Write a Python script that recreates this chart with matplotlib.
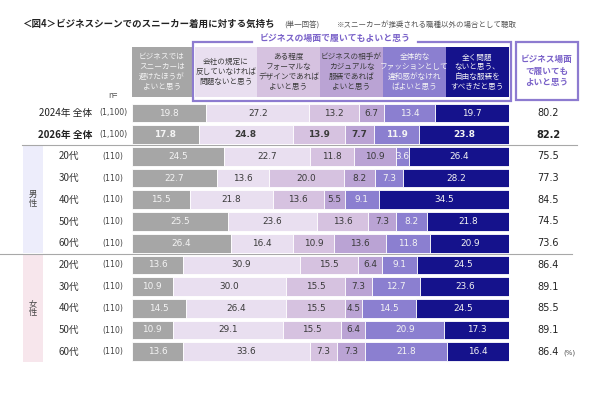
import matplotlib.pyplot as plt
from matplotlib.patches import Rectangle

plt.rcParams['font.family'] = ['Noto Sans CJK JP', 'DejaVu Sans']

# ---- data -------------------------------------------------------------
ROW_LABELS = ["2024年 全体", "2026年 全体",
              "20代", "30代", "40代", "50代", "60代",
              "20代", "30代", "40代", "50代", "60代"]
ROW_N = ["(1,100)", "(1,100)"] + ["(110)"] * 10

avoid = [19.8, 17.8, 24.5, 22.7, 15.5, 25.5, 26.4, 13.6, 10.9, 14.5, 10.9, 13.6]
if_rules = [27.2, 24.8, 22.7, 13.6, 21.8, 23.6, 16.4, 30.9, 30.0, 26.4, 29.1, 33.6]
if_formal = [13.2, 13.9, 11.8, 20.0, 13.6, 13.6, 10.9, 15.5, 15.5, 15.5, 15.5, 7.3]
if_partner = [6.7, 7.7, 10.9, 8.2, 5.5, 7.3, 13.6, 6.4, 7.3, 4.5, 6.4, 7.3]
if_fashion = [13.4, 11.9, 3.6, 7.3, 9.1, 8.2, 11.8, 9.1, 12.7, 14.5, 20.9, 21.8]
no_problem = [19.7, 23.8, 26.4, 28.2, 34.5, 21.8, 20.9, 24.5, 23.6, 24.5, 17.3, 16.4]
ok_total = [80.2, 82.2, 75.5, 77.3, 84.5, 74.5, 73.6, 86.4, 89.1, 85.5, 89.1, 86.4]

HEADERS = ["ビジネスでは\nスニーカーは\n避けたほうが\nよいと思う",
           "会社の規定に\n反していなければ\n問題ないと思う",
           "ある程度\nフォーマルな\nデザインであれば\nよいと思う",
           "ビジネスの相手が\nカジュアルな\n服装であれば\nよいと思う",
           "全体的な\nファッションとして\n違和感がなけれ\nばよいと思う",
           "全く問題\nないと思う、\n自由な服装を\nすべきだと思う"]

# ---- style ------------------------------------------------------------
COLORS = ["#a6a6a6", "#e9dff0", "#d6c2e0", "#baa3d4", "#8b7fd0", "#15128c"]
TXT = ["#f4f4f4", "#3a3a3a", "#3a3a3a", "#3a3a3a", "#f4f4f4", "#f4f4f4"]
PURPLE = "#8d7bd0"
PURPLE_TXT = "#7a62c9"
INK = "#333333"
W, H = 600, 398
BAR_L, BAR_R = 131.7, 509.3
ROW0, PITCH = 113.0, 21.7

fig = plt.figure(figsize=(6, 3.98), dpi=100)
fig.patch.set_facecolor("white")

# overlay axes in pixel coordinates for decoration
ov = fig.add_axes([0, 0, 1, 1])
ov.set_xlim(0, W)
ov.set_ylim(H, 0)
ov.axis("off")

# bar axes
n = len(ROW_LABELS)
top = ROW0 - PITCH / 2
bot = ROW0 + PITCH * (n - 0.5)
ax = fig.add_axes([BAR_L / W, 1 - bot / H, (BAR_R - BAR_L) / W, (bot - top) / H])
ax.set_xlim(0, 100)
ax.set_ylim(n - 0.5, -0.5)
ax.axis("off")

series = [avoid, if_rules, if_formal, if_partner, if_fashion, no_problem]
ys = list(range(n))
left = [0.0] * n
for k, vals in enumerate(series):
    ax.barh(ys, vals, left=left, height=0.86, color=COLORS[k], edgecolor="white", linewidth=0.6)
    for i, v in enumerate(vals):
        ax.text(left[i] + v / 2, i, f"{v:.1f}", ha="center", va="center", fontsize=6.4,
                color=TXT[k], family="DejaVu Sans", fontweight="bold" if i == 1 else "normal")
    left = [a + b for a, b in zip(left, vals)]

# title
ov.text(22, 24, "＜図4＞ビジネスシーンでのスニーカー着用に対する気持ち", fontsize=6.8,
        fontweight="bold", color="#222222", va="center", ha="left")
ov.text(284, 24.5, "(単一回答)", fontsize=5.4, color="#555555", va="center", ha="left")
ov.text(337, 24.5, "※スニーカーが推奨される職種以外の場合として聴取", fontsize=5.4,
        color="#555555", va="center", ha="left")

# header cells
cells = [(131.7, 192), (195, 257), (257, 320), (320, 383), (383, 446), (446, 508.5)]
for (x0, x1), c, t, txt in zip(cells, COLORS, TXT, HEADERS):
    ov.add_patch(Rectangle((x0, 47), x1 - x0, 50, facecolor=c, edgecolor="none"))
    ov.text((x0 + x1) / 2, 72, txt, ha="center", va="center", fontsize=5.5,
            color=t, linespacing=1.3)

# purple bracket box
lw = 1.6
ov.plot([252, 193, 193, 510.5, 510.5, 418], [42, 42, 100.5, 100.5, 42, 42],
        color=PURPLE, lw=lw, solid_joinstyle="miter")
ov.text(335, 38, "ビジネスの場面で履いてもよいと思う", ha="center", va="center",
        fontsize=6.4, fontweight="bold", color=PURPLE_TXT)
ov.add_patch(Rectangle((516, 42), 62, 58, facecolor="white", edgecolor=PURPLE, lw=lw))
ov.text(547, 71, "ビジネス場面\nで履いても\nよいと思う", ha="center", va="center",
        fontsize=6.2, fontweight="bold", color=PURPLE_TXT, linespacing=1.35)

ov.text(113, 95, "n=", ha="center", va="center", fontsize=5.8, color="#555555")

# group bands
ov.add_patch(Rectangle((23, 145), 20, 108, facecolor="#ededfb", edgecolor="none"))
ov.add_patch(Rectangle((23, 255), 20, 107, facecolor="#f7e6ec", edgecolor="none"))
ov.text(33, 199, "男\n性", ha="center", va="center", fontsize=6, color="#444444", linespacing=1.0)
ov.text(33, 308, "女\n性", ha="center", va="center", fontsize=6, color="#444444", linespacing=1.0)

# separators
ov.plot([22, 577], [144.5, 144.5], color="#a8a8a8", lw=0.8)
ov.plot([0, 572], [253.5, 253.5], color="#a8a8a8", lw=0.8)

# row labels and totals
for i in range(n):
    y = ROW0 + PITCH * i
    bold = "bold" if i == 1 else "normal"
    if i < 2:
        ov.text(92, y, ROW_LABELS[i], ha="right", va="center", fontsize=7,
                color="#222222", fontweight=bold)
        ov.text(113, y, ROW_N[i], ha="center", va="center", fontsize=5.6,
                color="#444444", family="DejaVu Sans")
    else:
        ov.text(69, y, ROW_LABELS[i], ha="center", va="center", fontsize=7, color=INK)
        ov.text(112.5, y, ROW_N[i], ha="center", va="center", fontsize=5.6,
                color="#444444", family="DejaVu Sans")
    ov.text(548, y, f"{ok_total[i]:.1f}", ha="center", va="center", fontsize=7,
            color="#222222", family="DejaVu Sans", fontweight=bold)

ov.text(563, ROW0 + PITCH * (n - 1) + 1, "(%)", ha="left", va="center", fontsize=5,
        color="#555555", family="DejaVu Sans")

fig.savefig("out.png", dpi=100, facecolor="white")
